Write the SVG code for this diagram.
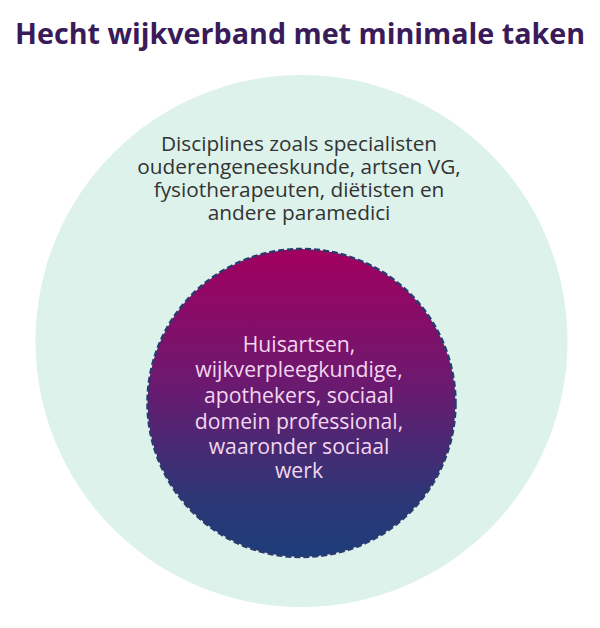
<svg xmlns="http://www.w3.org/2000/svg" width="600" height="628" viewBox="0 0 600 628">
<defs>
<linearGradient id="inner" x1="0" y1="0" x2="0" y2="1">
<stop offset="0" stop-color="#a3005f"/>
<stop offset="0.45" stop-color="#6a1a70"/>
<stop offset="0.8" stop-color="#2e3676"/>
<stop offset="1" stop-color="#1d3d7a"/>
</linearGradient>
<style>
.title{font-family:"Open Sans","Noto Sans",sans-serif;font-weight:bold;font-size:28.7px;fill:#3a1b5a}
.outer{font-family:"Open Sans","Noto Sans",sans-serif;font-size:20.8px;fill:#333333;text-anchor:middle}
.inner{font-family:"Open Sans","Noto Sans",sans-serif;font-size:21.2px;fill:#f3d6ef;text-anchor:middle}
</style>
</defs>
<rect width="600" height="628" fill="#ffffff"/>
<text class="title" x="15" y="44">Hecht wijkverband met minimale taken</text>
<g id="outer-circle">
<circle cx="301.5" cy="341" r="266" fill="#dcf2eb"/>
<text class="outer" x="299" y="151">Disciplines zoals specialisten</text>
<text class="outer" x="299" y="174">ouderengeneeskunde, artsen VG,</text>
<text class="outer" x="299" y="197">fysiotherapeuten, diëtisten en</text>
<text class="outer" x="299" y="220">andere paramedici</text>
</g>
<g id="inner-circle">
<circle cx="301.5" cy="403" r="154" fill="url(#inner)" stroke="#2a3a6e" stroke-width="2.5" stroke-dasharray="6 3"/>
<text class="inner" x="299" y="352">Huisartsen,</text>
<text class="inner" x="299" y="377">wijkverpleegkundige,</text>
<text class="inner" x="299" y="403">apothekers, sociaal</text>
<text class="inner" x="299" y="429">domein professional,</text>
<text class="inner" x="299" y="454">waaronder sociaal</text>
<text class="inner" x="299" y="478">werk</text>
</g>
<g id="connectors"/>
</svg>
